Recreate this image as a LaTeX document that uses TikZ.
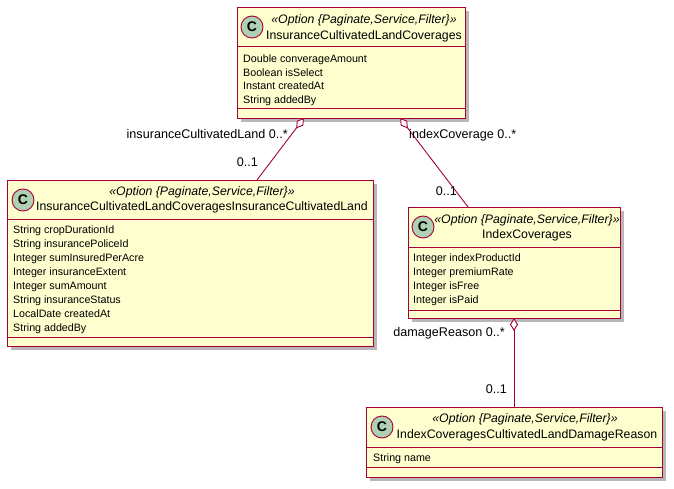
\documentclass[tikz,border=0pt]{standalone}
\usepackage{fontspec}
\setmainfont{Liberation Sans}
\usetikzlibrary{arrows.meta,shadows}
\definecolor{umlfill}{HTML}{FEFECE}
\definecolor{umlline}{HTML}{A80036}
\definecolor{umlcirc}{HTML}{ADD1B2}
\tikzset{
  classbox/.style={draw=umlline, line width=1.3pt, fill=umlfill, anchor=north west, inner sep=0pt,
    drop shadow={shadow xshift=3.5pt, shadow yshift=-3.5pt, fill=black, opacity=0.28}},
  sep/.style={draw=umlline, line width=1pt},
  circ/.style={circle, draw=umlline, line width=0.9pt, fill=umlcirc, minimum size=22pt, inner sep=0pt,
    font=\fontsize{14}{14}\selectfont\bfseries},
  stereo/.style={inner sep=0pt, text height=0.72em, text depth=0pt, font=\fontsize{12.3}{12.3}\selectfont\itshape},
  cname/.style={inner sep=0pt, text height=0.72em, text depth=0pt, font=\fontsize{12.3}{12.3}\selectfont},
  attr/.style={inner sep=0pt, anchor=west, text height=0.72em, text depth=0pt, font=\fontsize{10.7}{10.7}\selectfont},
  rolelbl/.style={inner sep=0pt, text height=0.72em, text depth=0pt, font=\fontsize{12.6}{12.6}\selectfont},
  assoc/.style={draw=umlline, line width=0.9pt, {Diamond[fill=white, length=13pt, width=8pt]}-}
}
\begin{document}
\begin{tikzpicture}[x={(1pt,0)}, y={(0,-1pt)}]
\useasboundingbox (0,0) rectangle (674,489);
% ---------- class A
\node[classbox, minimum width=228pt, minimum height=111pt] (A) at (237,7) {};
\draw[sep] (237,47) -- (465,47);
\draw[sep] (237,109) -- (465,109);
\node[circ] (Ac) at (252,27) {C};
\node[stereo] (As) at (364,20) {«Option \{Paginate,Service,Filter\}»};
\node[cname] (An) at (364,36) {InsuranceCultivatedLandCoverages};
\node[attr] (A1) at (243,59) {Double converageAmount};
\node[attr] (A2) at (243,72.5) {Boolean isSelect};
\node[attr] (A3) at (243,86) {Instant createdAt};
\node[attr] (A4) at (243,99.5) {String addedBy};
% ---------- class B
\node[classbox, minimum width=366pt, minimum height=166pt] (B) at (7,180) {};
\draw[sep] (7,219) -- (373,219);
\draw[sep] (7,337) -- (373,337);
\node[circ] (Bc) at (23,200) {C};
\node[stereo] (Bs) at (202,192) {«Option \{Paginate,Service,Filter\}»};
\node[cname] (Bn) at (202,207) {InsuranceCultivatedLandCoveragesInsuranceCultivatedLand};
\node[attr] (B1) at (13,230) {String cropDurationId};
\node[attr] (B2) at (13,244) {String insurancePoliceId};
\node[attr] (B3) at (13,258) {Integer sumInsuredPerAcre};
\node[attr] (B4) at (13,272) {Integer insuranceExtent};
\node[attr] (B5) at (13,286) {Integer sumAmount};
\node[attr] (B6) at (13,300) {String insuranceStatus};
\node[attr] (B7) at (13,314) {LocalDate createdAt};
\node[attr] (B8) at (13,327.5) {String addedBy};
% ---------- class C
\node[classbox, minimum width=212pt, minimum height=111pt] (C) at (408,207) {};
\draw[sep] (408,247) -- (620,247);
\draw[sep] (408,310) -- (620,310);
\node[circ] (Cc) at (423,227) {C};
\node[stereo] (Cs) at (527,220) {«Option \{Paginate,Service,Filter\}»};
\node[cname] (Cn) at (527,235) {IndexCoverages};
\node[attr] (C1) at (413,258) {Integer indexProductId};
\node[attr] (C2) at (413,272) {Integer premiumRate};
\node[attr] (C3) at (413,286) {Integer isFree};
\node[attr] (C4) at (413,300) {Integer isPaid};
% ---------- class D
\node[classbox, minimum width=296pt, minimum height=70pt] (D) at (366,407) {};
\draw[sep] (366,447) -- (662,447);
\draw[sep] (366,467) -- (662,467);
\node[circ] (Dc) at (382,427) {C};
\node[stereo] (Ds) at (525,419) {«Option \{Paginate,Service,Filter\}»};
\node[cname] (Dn) at (527,435) {IndexCoveragesCultivatedLandDamageReason};
\node[attr] (D1) at (373,458) {String name};
% ---------- connectors
\coordinate (a1) at (304,118);
\coordinate (b1) at (257,180);
\coordinate (a2) at (400,118);
\coordinate (c1) at (468,207);
\coordinate (c2) at (514,318);
\coordinate (d1) at (514,407);
\draw[assoc] (a1) -- (b1);
\draw[assoc] (a2) -- (c1);
\draw[assoc] (c2) -- (d1);
% ---------- labels
\node[rolelbl, anchor=east] (L1) at (288,135) {insuranceCultivatedLand 0..*};
\node[rolelbl, anchor=east] (L2) at (258,163) {0..1};
\node[rolelbl, anchor=west] (L3) at (409,135) {indexCoverage 0..*};
\node[rolelbl, anchor=east] (L4) at (457,192) {0..1};
\node[rolelbl, anchor=east] (L5) at (505,333) {damageReason 0..*};
\node[rolelbl, anchor=east] (L6) at (507,390) {0..1};
\end{tikzpicture}
\end{document}
